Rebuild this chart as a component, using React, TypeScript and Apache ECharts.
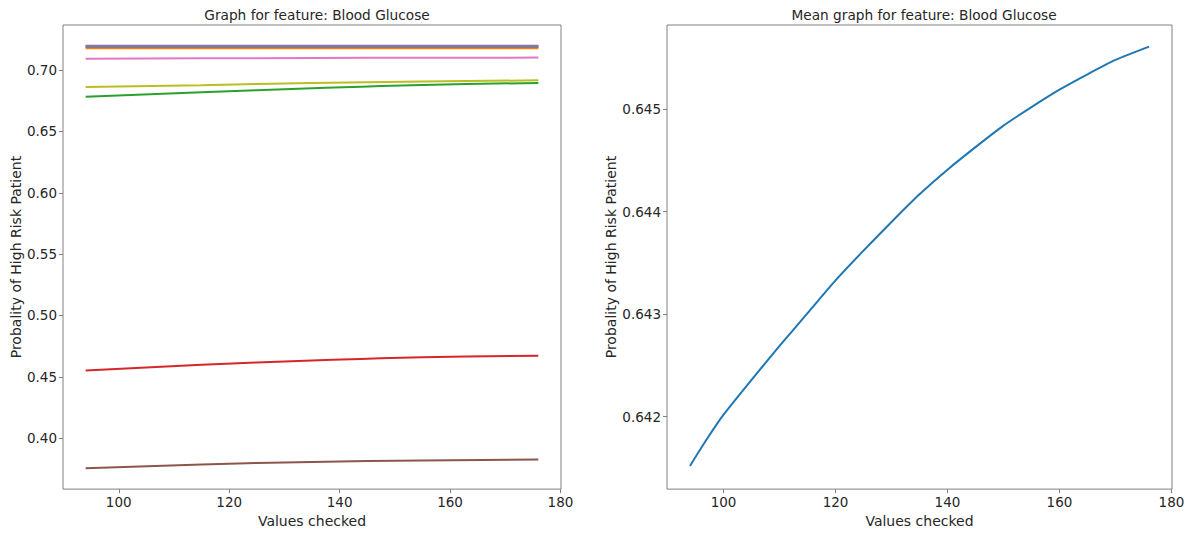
import React, { useEffect, useRef } from "react";
import * as echarts from "echarts";

// ---- Data ----
const xChecked = [94, 115, 135, 155, 176];
const sBlue = [0.7194, 0.7194, 0.7194, 0.7194, 0.7194];
const sOrange = [0.7179, 0.7179, 0.7179, 0.7179, 0.7179];
const sGreen = [0.6783, 0.6819, 0.6852, 0.6879, 0.6895];
const sRed = [0.4552, 0.4597, 0.4632, 0.4659, 0.4672];
const sPurple = [0.7198, 0.7198, 0.7198, 0.7198, 0.7198];
const sBrown = [0.3755, 0.3785, 0.3805, 0.3818, 0.3825];
const sPink = [0.7092, 0.7096, 0.7099, 0.7101, 0.7102];
const sGray = [0.7189, 0.7189, 0.7189, 0.7189, 0.7189];
const sOlive = [0.6863, 0.6877, 0.6895, 0.6907, 0.6917];

const xMean = [94, 97, 100, 105, 110, 115, 120, 125, 130, 135, 140, 145, 150, 155, 160, 165, 170, 176];
const sMean = [
  0.64152, 0.64178, 0.64202, 0.64236, 0.64269, 0.64301, 0.64333, 0.64362, 0.6439, 0.64417,
  0.64441, 0.64463, 0.64484, 0.64502, 0.64519, 0.64534, 0.64548, 0.64561,
];

const xTicks = [100, 120, 140, 160, 180];
const yTicksLeft = [0.4, 0.45, 0.5, 0.55, 0.6, 0.65, 0.7];
const yTicksRight = [0.642, 0.643, 0.644, 0.645];

const leftSeries = [
  { name: "s0", color: "#1f77b4", data: sBlue },
  { name: "s1", color: "#ff7f0e", data: sOrange },
  { name: "s2", color: "#2ca02c", data: sGreen },
  { name: "s3", color: "#d62728", data: sRed },
  { name: "s4", color: "#9467bd", data: sPurple },
  { name: "s5", color: "#8c564b", data: sBrown },
  { name: "s6", color: "#e377c2", data: sPink },
  { name: "s7", color: "#7f7f7f", data: sGray },
  { name: "s8", color: "#bcbd22", data: sOlive },
];

const FONT = "DejaVu Sans";
const TEXT = "#262626";
const FRAME = "#808080";

export default function App() {
  const ref = useRef<HTMLDivElement>(null);

  useEffect(() => {
    if (!ref.current) return;
    const chart = echarts.init(ref.current, undefined, { renderer: "svg" });

    const xAxisCommon = (gridIndex: number) => ({
      type: "value",
      gridIndex,
      min: 89.9,
      max: 180.1,
      name: "Values checked",
      nameLocation: "middle",
      nameGap: 22,
      nameTextStyle: { fontFamily: FONT, fontSize: 14, color: TEXT },
      axisLine: { show: false },
      splitLine: { show: false },
      axisTick: {
        show: true,
        length: 4,
        lineStyle: { color: FRAME },
        customValues: xTicks,
      },
      axisLabel: {
        margin: 6,
        fontFamily: FONT,
        fontSize: 13.5,
        color: TEXT,
        customValues: xTicks,
        formatter: (v: number) => String(Math.round(v)),
      },
    });

    chart.setOption({
      animation: false,
      backgroundColor: "#ffffff",
      title: [
        {
          text: "Graph for feature: Blood Glucose",
          left: 312,
          top: 3,
          textAlign: "center",
          textStyle: { fontFamily: FONT, fontSize: 13.7, fontWeight: "normal", color: TEXT },
        },
        {
          text: "Mean graph for feature: Blood Glucose",
          left: 919,
          top: 3,
          textAlign: "center",
          textStyle: { fontFamily: FONT, fontSize: 13.7, fontWeight: "normal", color: TEXT },
        },
      ],
      grid: [
        {
          left: 63,
          width: 498,
          top: 25,
          height: 470,
          show: true,
          borderColor: FRAME,
          borderWidth: 1,
          backgroundColor: "transparent",
        },
        {
          left: 667,
          width: 505,
          top: 25,
          height: 470,
          show: true,
          borderColor: FRAME,
          borderWidth: 1,
          backgroundColor: "transparent",
        },
      ],
      xAxis: [xAxisCommon(0), xAxisCommon(1)],
      yAxis: [
        {
          type: "value",
          gridIndex: 0,
          min: 0.3584,
          max: 0.7368,
          name: "Probality of High Risk Patient",
          nameLocation: "middle",
          nameGap: 39,
          nameTextStyle: { fontFamily: FONT, fontSize: 14, color: TEXT },
          axisLine: { show: false },
          splitLine: { show: false },
          axisTick: {
            show: true,
            length: 4,
            lineStyle: { color: FRAME },
            customValues: yTicksLeft,
          },
          axisLabel: {
            margin: 6,
            fontFamily: FONT,
            fontSize: 13.5,
            color: TEXT,
            customValues: yTicksLeft,
            formatter: (v: number) => v.toFixed(2),
          },
        },
        {
          type: "value",
          gridIndex: 1,
          min: 0.641294,
          max: 0.645821,
          name: "Probality of High Risk Patient",
          nameLocation: "middle",
          nameGap: 43,
          nameTextStyle: { fontFamily: FONT, fontSize: 14, color: TEXT },
          axisLine: { show: false },
          splitLine: { show: false },
          axisTick: {
            show: true,
            length: 4,
            lineStyle: { color: FRAME },
            customValues: yTicksRight,
          },
          axisLabel: {
            margin: 6,
            fontFamily: FONT,
            fontSize: 13.5,
            color: TEXT,
            customValues: yTicksRight,
            formatter: (v: number) => v.toFixed(3),
          },
        },
      ],
      series: [
        ...leftSeries.map((s) => ({
          type: "line",
          name: s.name,
          xAxisIndex: 0,
          yAxisIndex: 0,
          data: xChecked.map((x, i) => [x, s.data[i]]),
          smooth: 0.5,
          showSymbol: false,
          lineStyle: { color: s.color, width: 2 },
          itemStyle: { color: s.color },
        })),
        {
          type: "line",
          name: "mean",
          xAxisIndex: 1,
          yAxisIndex: 1,
          data: xMean.map((x, i) => [x, sMean[i]]),
          smooth: 0.2,
          showSymbol: false,
          lineStyle: { color: "#1f77b4", width: 2, join: "round" },
          itemStyle: { color: "#1f77b4" },
        },
      ],
    });

    return () => chart.dispose();
  }, []);

  return (
    <div
      ref={ref}
      style={{ position: "fixed", left: 0, top: 0, width: 1199, height: 533, background: "#fff" }}
    />
  );
}
